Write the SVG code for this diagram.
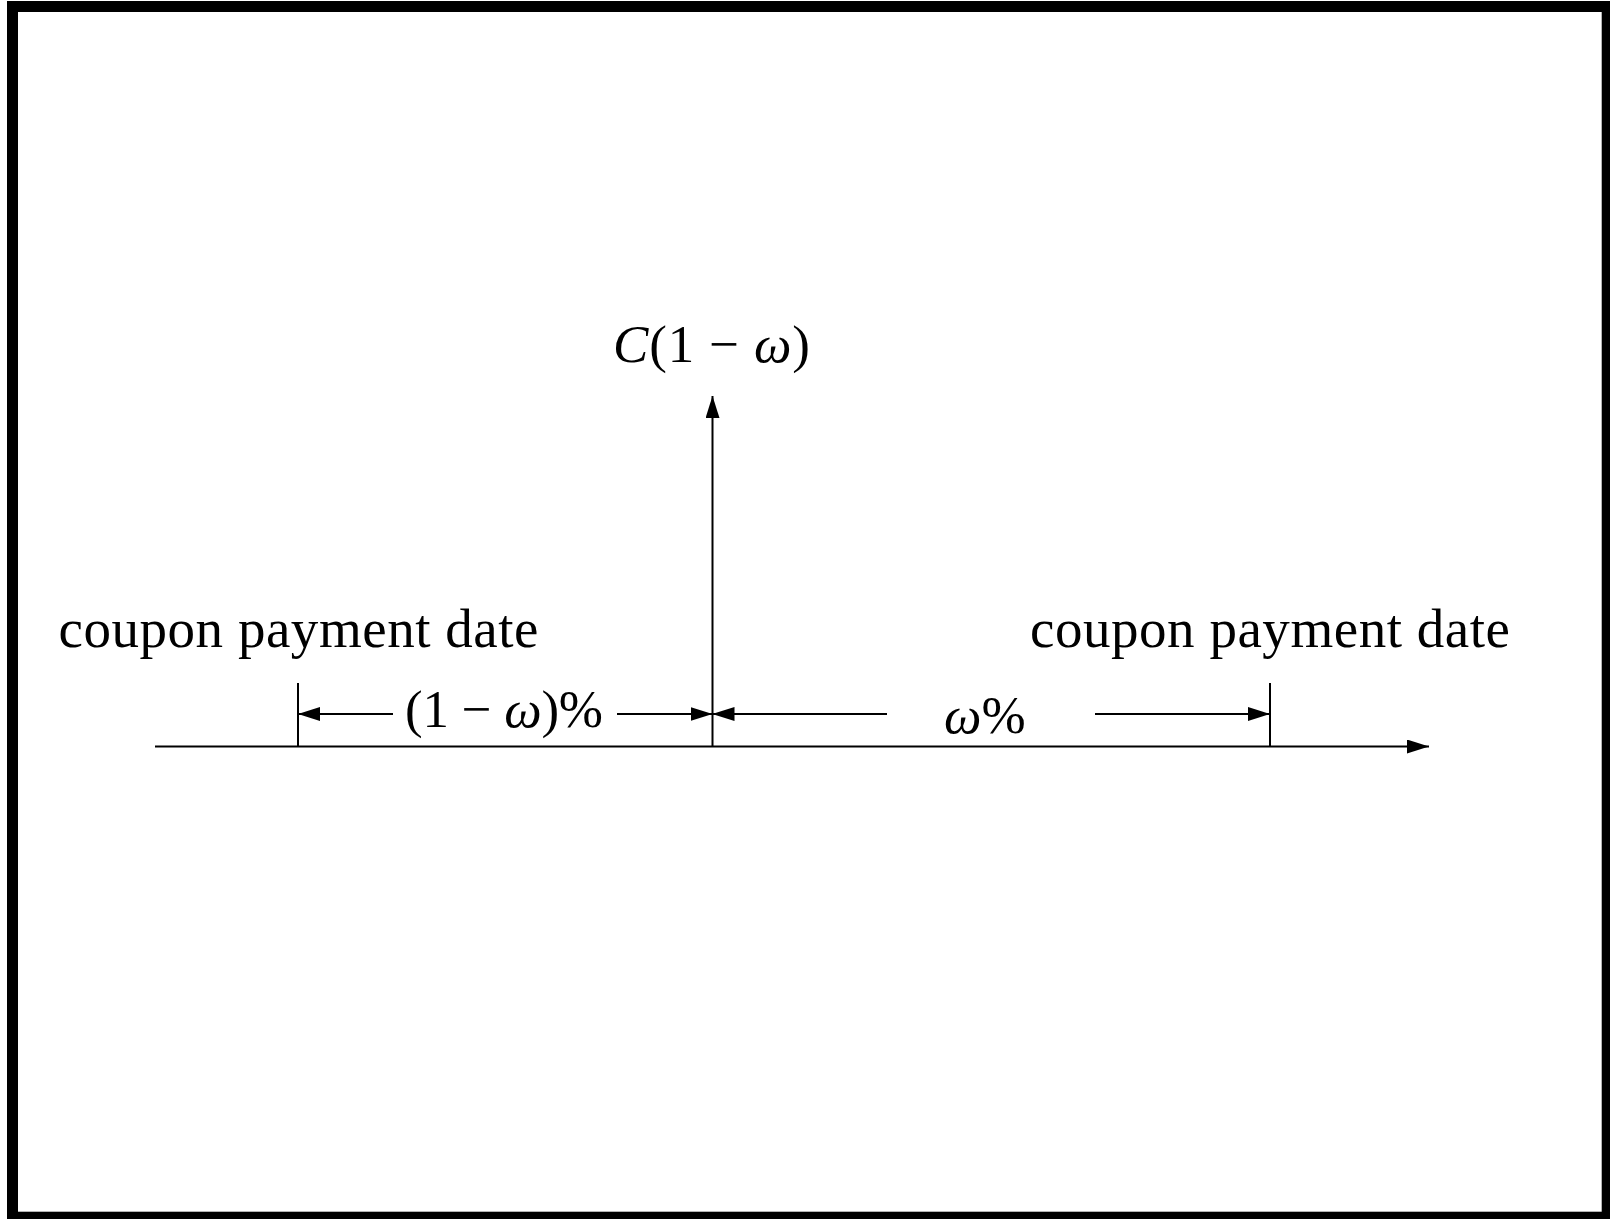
<svg xmlns="http://www.w3.org/2000/svg" width="1610" height="1219" viewBox="0 0 1610 1219">
<style>
.ln{stroke:#000;stroke-width:2;fill:none}
.t{font-family:"Liberation Serif","Times New Roman",serif;font-size:55px;fill:#000}
.m{font-family:"Liberation Serif","Times New Roman",serif;font-size:53px;fill:#000}
.i{font-style:italic}
</style>
<defs>
<marker id="ah" viewBox="0 0 22 14" refX="22" refY="7" markerWidth="22" markerHeight="14" markerUnits="userSpaceOnUse" orient="auto">
<path d="M0,0 L22,7 L0,14 z" fill="#000"/>
</marker>
</defs>
<rect x="0" y="0" width="1610" height="1219" fill="#fff"/>
<rect x="12.5" y="6.5" width="1594.7" height="1210.7" fill="none" stroke="#000" stroke-width="11"/>
<g id="connectors">
<line class="ln" x1="155" y1="746.5" x2="1429" y2="746.5" marker-end="url(#ah)"/>
<line class="ln" x1="712.5" y1="746.5" x2="712.5" y2="396" marker-end="url(#ah)"/>
<line class="ln" x1="298" y1="683" x2="298" y2="746.5"/>
<line class="ln" x1="1270" y1="683" x2="1270" y2="746.5"/>
<line class="ln" x1="393" y1="714" x2="298" y2="714" marker-end="url(#ah)"/>
<line class="ln" x1="617" y1="714" x2="712.5" y2="714" marker-end="url(#ah)"/>
<line class="ln" x1="887" y1="714" x2="712.5" y2="714" marker-end="url(#ah)"/>
<line class="ln" x1="1095" y1="714" x2="1270" y2="714" marker-end="url(#ah)"/>
</g>
<g id="label-top">
<text class="m" x="613" y="362" textLength="197"><tspan class="i">C</tspan>(1 − <tspan class="i">ω</tspan>)</text>
</g>
<g id="label-left-date">
<text class="t" x="58.5" y="647" textLength="480">coupon payment date</text>
</g>
<g id="label-right-date">
<text class="t" x="1030" y="647" textLength="480">coupon payment date</text>
</g>
<g id="label-left-interval">
<text class="m" x="405" y="727" textLength="198">(1 − <tspan class="i">ω</tspan>)%</text>
</g>
<g id="label-right-interval">
<text class="m" x="944" y="733" font-size="51"><tspan class="i">ω</tspan>%</text>
</g>
</svg>
